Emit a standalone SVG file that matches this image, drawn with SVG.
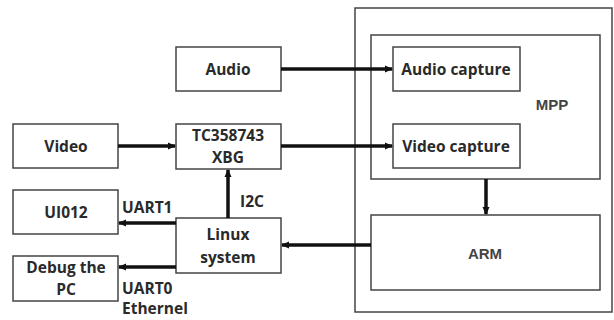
<svg xmlns="http://www.w3.org/2000/svg" width="614" height="320" viewBox="0 0 614 320">
<defs>
<marker id="ah" markerWidth="8" markerHeight="8" refX="7" refY="4" orient="auto" markerUnits="userSpaceOnUse">
<path d="M0,0.5 L8,4 L0,7.5 Z" fill="#111"/>
</marker>
<style>
.box{fill:#fff;stroke:#444;stroke-width:1.5}
.t{font-family:"Open Sans","Liberation Sans",sans-serif;font-weight:bold;font-size:15.5px;fill:#2a2a2a;text-anchor:middle}
.a{font-family:"Liberation Sans",Arial,sans-serif;font-weight:bold;font-size:15px;fill:#444;text-anchor:middle}
.l{font-family:"Open Sans","Liberation Sans",sans-serif;font-weight:bold;font-size:15.5px;fill:#2a2a2a}
.c{stroke:#111;stroke-width:3.5;fill:none;marker-end:url(#ah)}
</style>
</defs>
<rect width="614" height="320" fill="#fff"/>
<g id="soc"><rect class="box" x="355" y="8" width="257" height="304"/></g>
<g id="mpp"><rect class="box" x="371" y="35" width="229" height="144"/><text class="a" x="552" y="110">MPP</text></g>
<g id="audio-capture"><rect class="box" x="393" y="47" width="127" height="44"/><text class="t" x="456" y="75">Audio capture</text></g>
<g id="video-capture"><rect class="box" x="393" y="124" width="127" height="44"/><text class="t" x="456" y="152">Video capture</text></g>
<g id="arm"><rect class="box" x="371" y="215" width="229" height="75"/><text class="a" x="485" y="259">ARM</text></g>
<g id="audio"><rect class="box" x="176" y="47" width="105" height="44"/><text class="t" x="228" y="75">Audio</text></g>
<g id="video"><rect class="box" x="13" y="124" width="105" height="44"/><text class="t" x="66" y="152">Video</text></g>
<g id="tc"><rect class="box" x="176" y="124" width="105" height="45"/><text class="t" x="228" y="141">TC358743</text><text class="t" x="228" y="163">XBG</text></g>
<g id="ui012"><rect class="box" x="13" y="190" width="105" height="44"/><text class="t" x="66" y="218">UI012</text></g>
<g id="debug"><rect class="box" x="13" y="256" width="105" height="45"/><text class="t" x="66" y="273">Debug the</text><text class="t" x="66" y="295">PC</text></g>
<g id="linux"><rect class="box" x="176" y="218" width="105" height="55"/><text class="t" x="228" y="240">Linux</text><text class="t" x="228" y="263">system</text></g>
<g id="connectors">
<line class="c" x1="281" y1="69" x2="392" y2="69"/>
<line class="c" x1="281" y1="146" x2="392" y2="146"/>
<line class="c" x1="118" y1="146" x2="175" y2="146"/>
<line class="c" x1="228" y1="218" x2="228" y2="170"/>
<line class="c" x1="176" y1="223" x2="119" y2="223"/>
<line class="c" x1="176" y1="267" x2="119" y2="267"/>
<line class="c" x1="371" y1="245" x2="282" y2="245"/>
<line class="c" x1="486" y1="179" x2="486" y2="214"/>
</g>
<g id="labels">
<text class="l" x="240" y="207">I2C</text>
<text class="l" x="122" y="213">UART1</text>
<text class="l" x="122" y="294">UART0</text>
<text class="l" x="122" y="314">Ethernel</text>
</g>
</svg>
